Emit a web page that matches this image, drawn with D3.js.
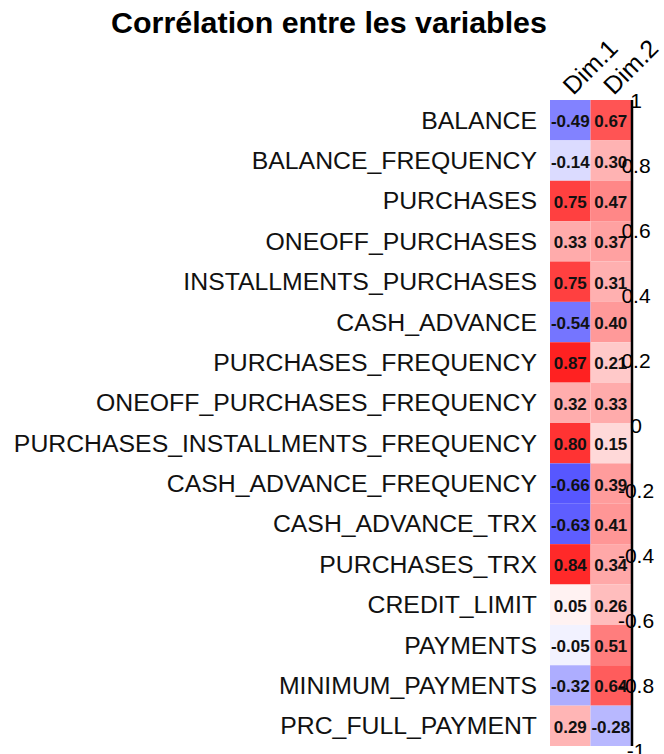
<!DOCTYPE html>
<html>
<head>
<meta charset="utf-8">
<script src="https://cdn.jsdelivr.net/npm/d3@7"></script>
<style>
  body { margin: 0; background: #fff; }
  text { font-family: "Liberation Sans", Arial, sans-serif; }
</style>
</head>
<body>
<div id="chart"></div>
<script>
// Data
const variables = [
  'BALANCE', 'BALANCE_FREQUENCY', 'PURCHASES', 'ONEOFF_PURCHASES',
  'INSTALLMENTS_PURCHASES', 'CASH_ADVANCE', 'PURCHASES_FREQUENCY',
  'ONEOFF_PURCHASES_FREQUENCY', 'PURCHASES_INSTALLMENTS_FREQUENCY',
  'CASH_ADVANCE_FREQUENCY', 'CASH_ADVANCE_TRX', 'PURCHASES_TRX',
  'CREDIT_LIMIT', 'PAYMENTS', 'MINIMUM_PAYMENTS', 'PRC_FULL_PAYMENT'
]
const dims = ['Dim.1', 'Dim.2']
const dim1 = [-0.49, -0.14, 0.75, 0.33, 0.75, -0.54, 0.87, 0.32, 0.80, -0.66, -0.63, 0.84, 0.05, -0.05, -0.32, 0.29]
const dim2 = [0.67, 0.30, 0.47, 0.37, 0.31, 0.40, 0.21, 0.33, 0.15, 0.39, 0.41, 0.34, 0.26, 0.51, 0.64, -0.28]
const legendTicks = [1, 0.8, 0.6, 0.4, 0.2, 0, -0.2, -0.4, -0.6, -0.8, -1]

// Our canvas
const width = 664,
  height = 754

const svg = d3.select('#chart')
  .append('svg')
  .attr('width', width)
  .attr('height', height)

// cells as a flat list
const cells = []
variables.forEach((v, i) => {
  cells.push({ row: v, col: dims[0], value: dim1[i] })
  cells.push({ row: v, col: dims[1], value: dim2[i] })
})

const y = d3.scaleBand().domain(variables).range([100, 746])
const x = d3.scaleBand().domain(dims).range([550, 631])
const color = d3.scaleLinear()
  .domain([-1, 0, 1])
  .range(['#0000ff', '#ffffff', '#ff0000'])

// title
svg.append('text')
  .attr('x', 329)
  .attr('y', 33)
  .attr('text-anchor', 'middle')
  .style('font-size', '30.4px')
  .style('font-weight', 'bold')
  .text('Corrélation entre les variables')

// tiles
svg.selectAll('rect.cell')
  .data(cells)
  .enter()
  .append('rect')
  .attr('class', 'cell')
  .attr('x', d => x(d.col))
  .attr('y', d => y(d.row))
  .attr('width', x.bandwidth())
  .attr('height', y.bandwidth())
  .attr('fill', d => color(d.value))

// values
svg.selectAll('text.val')
  .data(cells)
  .enter()
  .append('text')
  .attr('class', 'val')
  .attr('x', d => x(d.col) + x.bandwidth() / 2)
  .attr('y', d => y(d.row) + y.bandwidth() / 2 + 1.5)
  .attr('text-anchor', 'middle')
  .attr('dominant-baseline', 'central')
  .style('font-size', '17px')
  .style('font-weight', 'bold')
  .attr('fill', '#111')
  .text(d => d.value.toFixed(2))

// row labels
svg.selectAll('text.rowlab')
  .data(variables)
  .enter()
  .append('text')
  .attr('class', 'rowlab')
  .attr('x', 537)
  .attr('y', d => y(d) + y.bandwidth() / 2)
  .attr('text-anchor', 'end')
  .attr('dominant-baseline', 'central')
  .style('font-size', '24.8px')
  .attr('fill', '#111')
  .text(d => d)

// column labels, rotated
svg.selectAll('text.collab')
  .data(dims)
  .enter()
  .append('text')
  .attr('class', 'collab')
  .attr('transform', d => `translate(${x(d) + x.bandwidth() / 2 + 3}, 96) rotate(-45)`)
  .style('font-size', '25px')
  .text(d => d)

// colour legend (squeezed to a line)
const legendY = d3.scaleLinear().domain([1, -1]).range([100, 750])

svg.append('line')
  .attr('x1', 632)
  .attr('x2', 632)
  .attr('y1', 100)
  .attr('y2', 746)
  .attr('stroke', '#000')
  .attr('stroke-width', 2.5)

svg.selectAll('text.leg')
  .data(legendTicks)
  .enter()
  .append('text')
  .attr('class', 'leg')
  .attr('x', 636)
  .attr('y', d => legendY(d))
  .attr('text-anchor', 'middle')
  .attr('dominant-baseline', 'central')
  .style('font-size', '21px')
  .text(d => d)
</script>
</body>
</html>
